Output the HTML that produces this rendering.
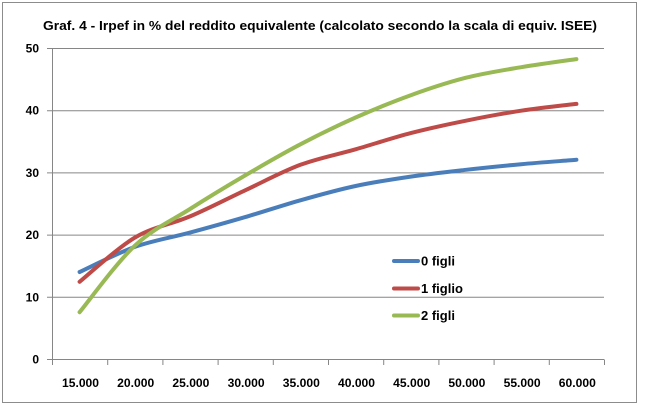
<!DOCTYPE html>
<html><head><meta charset="utf-8"><style>
html,body{margin:0;padding:0;background:#fff;}
svg{display:block;font-family:"Liberation Sans",sans-serif;}
</style></head><body>
<svg id="c" width="645" height="407" viewBox="0 0 645 407" xmlns="http://www.w3.org/2000/svg">
<rect x="0" y="0" width="645" height="407" fill="#fff"/>
<rect x="2.5" y="2.5" width="634" height="400" fill="none" stroke="#8c8c8c" stroke-width="1"/>
<text x="320" y="30" text-anchor="middle" font-size="13" font-weight="bold" fill="#000" textLength="554" lengthAdjust="spacingAndGlyphs">Graf. 4 - Irpef in % del reddito equivalente (calcolato secondo la scala di equiv. ISEE)</text>
<g stroke="#868686" stroke-width="1" fill="none">
<path d="M47 48.5H604M47 110.7H604M47 172.9H604M47 235.1H604M47 297.3H604"/>
<path d="M52.5 48.5V359.5M47 359.5H604"/>
<path d="M52.5 359.5V365M107.7 359.5V365M162.9 359.5V365M218.1 359.5V365M273.3 359.5V365M328.5 359.5V365M383.7 359.5V365M438.9 359.5V365M494.1 359.5V365M549.3 359.5V365M604.5 359.5V365"/>
</g>
<g font-size="12" font-weight="bold" fill="#000" text-anchor="end">
<text x="39" y="52.5">50</text>
<text x="39" y="114.7">40</text>
<text x="39" y="176.9">30</text>
<text x="39" y="239.1">20</text>
<text x="39" y="301.3">10</text>
<text x="39" y="363.5">0</text>
</g>
<g font-size="12" font-weight="bold" fill="#000" text-anchor="middle">
<text x="80.5" y="387" textLength="37" lengthAdjust="spacingAndGlyphs">15.000</text>
<text x="135.7" y="387" textLength="37" lengthAdjust="spacingAndGlyphs">20.000</text>
<text x="190.9" y="387" textLength="37" lengthAdjust="spacingAndGlyphs">25.000</text>
<text x="246.1" y="387" textLength="37" lengthAdjust="spacingAndGlyphs">30.000</text>
<text x="301.3" y="387" textLength="37" lengthAdjust="spacingAndGlyphs">35.000</text>
<text x="356.5" y="387" textLength="37" lengthAdjust="spacingAndGlyphs">40.000</text>
<text x="411.7" y="387" textLength="37" lengthAdjust="spacingAndGlyphs">45.000</text>
<text x="466.9" y="387" textLength="37" lengthAdjust="spacingAndGlyphs">50.000</text>
<text x="522.1" y="387" textLength="37" lengthAdjust="spacingAndGlyphs">55.000</text>
<text x="577.3" y="387" textLength="37" lengthAdjust="spacingAndGlyphs">60.000</text>
</g>
<path id="sb" fill="none" stroke="#4a7ebb" stroke-width="4" stroke-linecap="round" d=""/>
<path id="sr" fill="none" stroke="#be4b48" stroke-width="4" stroke-linecap="round" d=""/>
<path id="sg" fill="none" stroke="#98b954" stroke-width="4" stroke-linecap="round" d=""/>
<g stroke-width="4" stroke-linecap="round">
<line x1="394" y1="261" x2="418" y2="261" stroke="#4a7ebb"/>
<line x1="394" y1="288.5" x2="418" y2="288.5" stroke="#be4b48"/>
<line x1="394" y1="315.5" x2="418" y2="315.5" stroke="#98b954"/>
</g>
<g font-size="13" font-weight="bold" fill="#000">
<text x="421" y="265.5">0 figli</text>
<text x="421" y="293">1 figlio</text>
<text x="421" y="320">2 figli</text>
</g>
</svg>
<script>
(function(){
var y0=359.5,k=6.22;
var data={
sb:[14.07,18.1,20.4,22.9,25.6,27.9,29.4,30.5,31.4,32.1],
sr:[12.5,19.6,23.0,27.2,31.3,33.8,36.4,38.4,40.0,41.1],
sg:[7.6,18.3,24.2,29.6,34.6,38.9,42.5,45.3,47.0,48.3]
};
for(var id in data){
var v=data[id],p=[];
for(var i=0;i<v.length;i++)p.push([79.6+55.2*i,y0-k*v[i]]);
var d="M"+p[0][0].toFixed(1)+" "+p[0][1].toFixed(1);
for(var i=0;i<p.length-1;i++){
var a=p[i-1]||p[i],b=p[i],c=p[i+1],e=p[i+2]||p[i+1];
var c1x=b[0]+(c[0]-a[0])/6,c1y=b[1]+(c[1]-a[1])/6;
var c2x=c[0]-(e[0]-b[0])/6,c2y=c[1]-(e[1]-b[1])/6;
d+=" C"+c1x.toFixed(1)+" "+c1y.toFixed(1)+" "+c2x.toFixed(1)+" "+c2y.toFixed(1)+" "+c[0].toFixed(1)+" "+c[1].toFixed(1);
}
document.getElementById(id).setAttribute("d",d);
}
})();
</script>
</body></html>
